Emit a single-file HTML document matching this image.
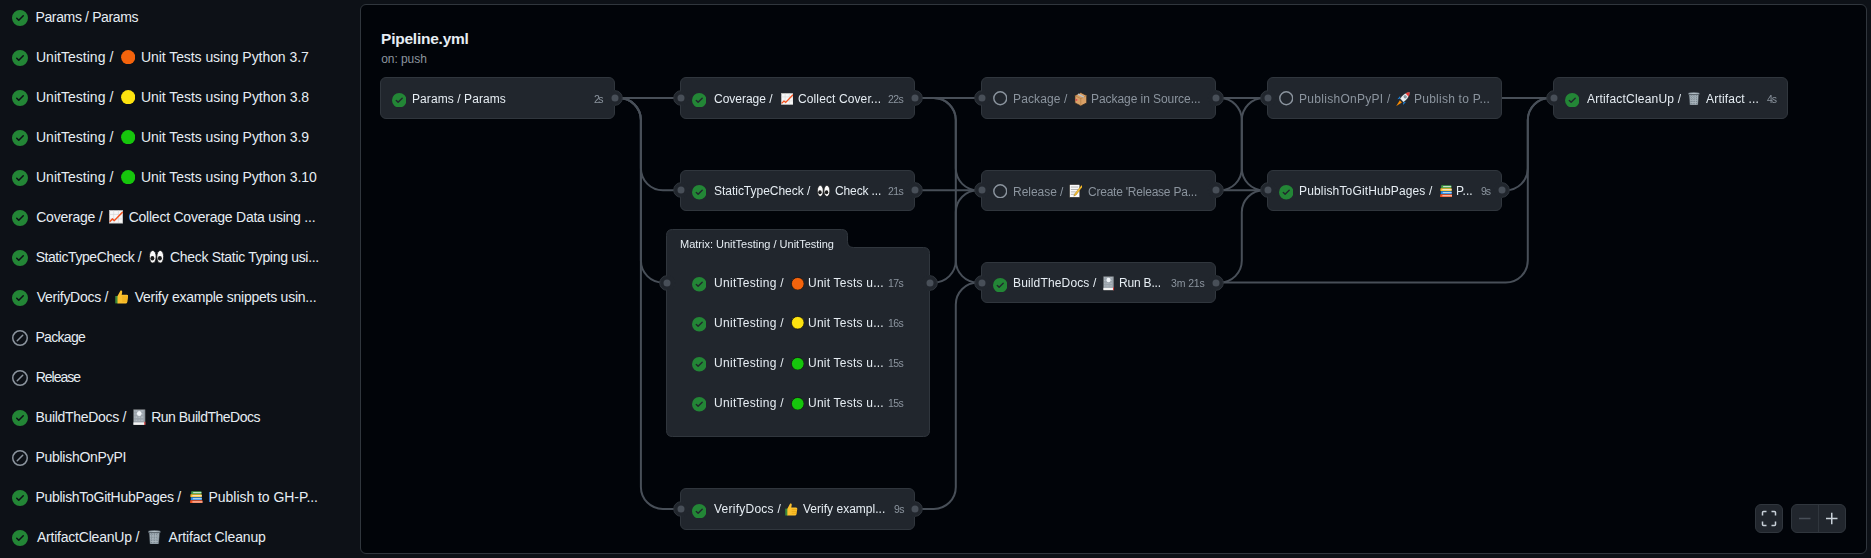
<!DOCTYPE html><html><head><meta charset="utf-8"><style>
html,body{margin:0;padding:0;}
body{width:1871px;height:558px;background:#0d1117;font-family:"Liberation Sans", sans-serif;position:relative;overflow:hidden;color:#e6edf3;}
.a{position:absolute;}
.t{position:absolute;white-space:pre;line-height:1;}
.g{will-change:transform;}
.panel{position:absolute;left:360px;top:4px;width:1505px;height:548px;border:1px solid #30363d;border-radius:6px;background:#010409;}
.node{position:absolute;background:#21262d;border:1px solid #30363d;border-radius:6px;box-sizing:border-box;}
</style></head><body>
<div class="a" style="left:12px;top:10px"><svg width="16" height="16" viewBox="0 0 16 16" style="display:block"><path fill="#238636" d="M8 16A8 8 0 1 1 8 0a8 8 0 0 1 0 16Zm3.78-9.72a.751.751 0 0 0-.018-1.042.751.751 0 0 0-1.042-.018L6.75 9.19 5.28 7.72a.751.751 0 0 0-1.042.018.751.751 0 0 0-.018 1.042l2 2a.75.75 0 0 0 1.06 0Z"/></svg></div>
<div class="a" style="left:12px;top:50px"><svg width="16" height="16" viewBox="0 0 16 16" style="display:block"><path fill="#238636" d="M8 16A8 8 0 1 1 8 0a8 8 0 0 1 0 16Zm3.78-9.72a.751.751 0 0 0-.018-1.042.751.751 0 0 0-1.042-.018L6.75 9.19 5.28 7.72a.751.751 0 0 0-1.042.018.751.751 0 0 0-.018 1.042l2 2a.75.75 0 0 0 1.06 0Z"/></svg></div>
<div class="a" style="left:12px;top:90px"><svg width="16" height="16" viewBox="0 0 16 16" style="display:block"><path fill="#238636" d="M8 16A8 8 0 1 1 8 0a8 8 0 0 1 0 16Zm3.78-9.72a.751.751 0 0 0-.018-1.042.751.751 0 0 0-1.042-.018L6.75 9.19 5.28 7.72a.751.751 0 0 0-1.042.018.751.751 0 0 0-.018 1.042l2 2a.75.75 0 0 0 1.06 0Z"/></svg></div>
<div class="a" style="left:12px;top:130px"><svg width="16" height="16" viewBox="0 0 16 16" style="display:block"><path fill="#238636" d="M8 16A8 8 0 1 1 8 0a8 8 0 0 1 0 16Zm3.78-9.72a.751.751 0 0 0-.018-1.042.751.751 0 0 0-1.042-.018L6.75 9.19 5.28 7.72a.751.751 0 0 0-1.042.018.751.751 0 0 0-.018 1.042l2 2a.75.75 0 0 0 1.06 0Z"/></svg></div>
<div class="a" style="left:12px;top:170px"><svg width="16" height="16" viewBox="0 0 16 16" style="display:block"><path fill="#238636" d="M8 16A8 8 0 1 1 8 0a8 8 0 0 1 0 16Zm3.78-9.72a.751.751 0 0 0-.018-1.042.751.751 0 0 0-1.042-.018L6.75 9.19 5.28 7.72a.751.751 0 0 0-1.042.018.751.751 0 0 0-.018 1.042l2 2a.75.75 0 0 0 1.06 0Z"/></svg></div>
<div class="a" style="left:12px;top:210px"><svg width="16" height="16" viewBox="0 0 16 16" style="display:block"><path fill="#238636" d="M8 16A8 8 0 1 1 8 0a8 8 0 0 1 0 16Zm3.78-9.72a.751.751 0 0 0-.018-1.042.751.751 0 0 0-1.042-.018L6.75 9.19 5.28 7.72a.751.751 0 0 0-1.042.018.751.751 0 0 0-.018 1.042l2 2a.75.75 0 0 0 1.06 0Z"/></svg></div>
<div class="a" style="left:12px;top:250px"><svg width="16" height="16" viewBox="0 0 16 16" style="display:block"><path fill="#238636" d="M8 16A8 8 0 1 1 8 0a8 8 0 0 1 0 16Zm3.78-9.72a.751.751 0 0 0-.018-1.042.751.751 0 0 0-1.042-.018L6.75 9.19 5.28 7.72a.751.751 0 0 0-1.042.018.751.751 0 0 0-.018 1.042l2 2a.75.75 0 0 0 1.06 0Z"/></svg></div>
<div class="a" style="left:12px;top:290px"><svg width="16" height="16" viewBox="0 0 16 16" style="display:block"><path fill="#238636" d="M8 16A8 8 0 1 1 8 0a8 8 0 0 1 0 16Zm3.78-9.72a.751.751 0 0 0-.018-1.042.751.751 0 0 0-1.042-.018L6.75 9.19 5.28 7.72a.751.751 0 0 0-1.042.018.751.751 0 0 0-.018 1.042l2 2a.75.75 0 0 0 1.06 0Z"/></svg></div>
<div class="a" style="left:12px;top:330px"><svg width="16" height="16" viewBox="0 0 16 16" style="display:block"><path fill="#8b949e" d="M8 0a8 8 0 1 1 0 16A8 8 0 0 1 8 0ZM1.5 8a6.5 6.5 0 1 0 13 0 6.5 6.5 0 0 0-13 0Zm9.78-2.22-5.5 5.5a.749.749 0 0 1-1.275-.326.749.749 0 0 1 .215-.734l5.5-5.5a.751.751 0 0 1 1.042.018.751.751 0 0 1 .018 1.042Z"/></svg></div>
<div class="a" style="left:12px;top:370px"><svg width="16" height="16" viewBox="0 0 16 16" style="display:block"><path fill="#8b949e" d="M8 0a8 8 0 1 1 0 16A8 8 0 0 1 8 0ZM1.5 8a6.5 6.5 0 1 0 13 0 6.5 6.5 0 0 0-13 0Zm9.78-2.22-5.5 5.5a.749.749 0 0 1-1.275-.326.749.749 0 0 1 .215-.734l5.5-5.5a.751.751 0 0 1 1.042.018.751.751 0 0 1 .018 1.042Z"/></svg></div>
<div class="a" style="left:12px;top:410px"><svg width="16" height="16" viewBox="0 0 16 16" style="display:block"><path fill="#238636" d="M8 16A8 8 0 1 1 8 0a8 8 0 0 1 0 16Zm3.78-9.72a.751.751 0 0 0-.018-1.042.751.751 0 0 0-1.042-.018L6.75 9.19 5.28 7.72a.751.751 0 0 0-1.042.018.751.751 0 0 0-.018 1.042l2 2a.75.75 0 0 0 1.06 0Z"/></svg></div>
<div class="a" style="left:12px;top:450px"><svg width="16" height="16" viewBox="0 0 16 16" style="display:block"><path fill="#8b949e" d="M8 0a8 8 0 1 1 0 16A8 8 0 0 1 8 0ZM1.5 8a6.5 6.5 0 1 0 13 0 6.5 6.5 0 0 0-13 0Zm9.78-2.22-5.5 5.5a.749.749 0 0 1-1.275-.326.749.749 0 0 1 .215-.734l5.5-5.5a.751.751 0 0 1 1.042.018.751.751 0 0 1 .018 1.042Z"/></svg></div>
<div class="a" style="left:12px;top:490px"><svg width="16" height="16" viewBox="0 0 16 16" style="display:block"><path fill="#238636" d="M8 16A8 8 0 1 1 8 0a8 8 0 0 1 0 16Zm3.78-9.72a.751.751 0 0 0-.018-1.042.751.751 0 0 0-1.042-.018L6.75 9.19 5.28 7.72a.751.751 0 0 0-1.042.018.751.751 0 0 0-.018 1.042l2 2a.75.75 0 0 0 1.06 0Z"/></svg></div>
<div class="a" style="left:12px;top:530px"><svg width="16" height="16" viewBox="0 0 16 16" style="display:block"><path fill="#238636" d="M8 16A8 8 0 1 1 8 0a8 8 0 0 1 0 16Zm3.78-9.72a.751.751 0 0 0-.018-1.042.751.751 0 0 0-1.042-.018L6.75 9.19 5.28 7.72a.751.751 0 0 0-1.042.018.751.751 0 0 0-.018 1.042l2 2a.75.75 0 0 0 1.06 0Z"/></svg></div>
<div class="panel"></div>
<svg class="a" style="left:0;top:0" width="1871" height="558"><path d="M614.5,98.0 H680.5" fill="none" stroke="#484f58" stroke-width="2"/><path d="M614.5,98.0 H618.9 A22,22 0 0 1 640.9,120.0 V168.3 A22,22 0 0 0 662.9,190.3 H680.5" fill="none" stroke="#484f58" stroke-width="2"/><path d="M614.5,98.0 H618.9 A22,22 0 0 1 640.9,120.0 V260.6 A22,22 0 0 0 662.9,282.6 H666.5" fill="none" stroke="#484f58" stroke-width="2"/><path d="M614.5,98.0 H618.9 A22,22 0 0 1 640.9,120.0 V486.9 A22,22 0 0 0 662.9,508.9 H680.5" fill="none" stroke="#484f58" stroke-width="2"/><path d="M914.5,98.0 H981.5" fill="none" stroke="#484f58" stroke-width="2"/><path d="M914.5,98.0 H933.8 A22,22 0 0 1 955.8,120.0 V168.3 A22,22 0 0 0 977.8,190.3 H981.5" fill="none" stroke="#484f58" stroke-width="2"/><path d="M914.5,98.0 H933.8 A22,22 0 0 1 955.8,120.0 V260.6 A22,22 0 0 0 977.8,282.6 H981.5" fill="none" stroke="#484f58" stroke-width="2"/><path d="M914.5,190.3 H981.5" fill="none" stroke="#484f58" stroke-width="2"/><path d="M929.5,282.6 H933.8 A22,22 0 0 0 955.8,260.6 V212.3 A22,22 0 0 1 977.8,190.3 H981.5" fill="none" stroke="#484f58" stroke-width="2"/><path d="M914.5,508.9 H933.8 A22,22 0 0 0 955.8,486.9 V304.6 A22,22 0 0 1 977.8,282.6 H981.5" fill="none" stroke="#484f58" stroke-width="2"/><path d="M1215.5,98.0 H1267.5" fill="none" stroke="#484f58" stroke-width="2"/><path d="M1215.5,98.0 H1219.8 A22,22 0 0 1 1241.8,120.0 V168.3 A22,22 0 0 0 1263.8,190.3 H1267.5" fill="none" stroke="#484f58" stroke-width="2"/><path d="M1215.5,190.3 H1219.8 A22,22 0 0 0 1241.8,168.3 V120.0 A22,22 0 0 1 1263.8,98.0 H1267.5" fill="none" stroke="#484f58" stroke-width="2"/><path d="M1215.5,190.3 H1267.5" fill="none" stroke="#484f58" stroke-width="2"/><path d="M1215.5,282.6 H1219.8 A22,22 0 0 0 1241.8,260.6 V212.3 A22,22 0 0 1 1263.8,190.3 H1267.5" fill="none" stroke="#484f58" stroke-width="2"/><path d="M1501.5,98.0 H1553.5" fill="none" stroke="#484f58" stroke-width="2"/><path d="M1501.5,190.3 H1505.8 A22,22 0 0 0 1527.8,168.3 V120.0 A22,22 0 0 1 1549.8,98.0 H1553.5" fill="none" stroke="#484f58" stroke-width="2"/><path d="M1215.5,282.6 H1505.8 A22,22 0 0 0 1527.8,260.6 V120.0 A22,22 0 0 1 1549.8,98.0 H1553.5" fill="none" stroke="#484f58" stroke-width="2"/></svg>
<div class="node" style="left:380.0px;top:77px;width:235.0px;height:42px"></div>
<div class="node" style="left:680.0px;top:77px;width:235.0px;height:42px"></div>
<div class="node" style="left:680.0px;top:170px;width:235.0px;height:41px"></div>
<div class="node" style="left:680.0px;top:488px;width:235.0px;height:42px"></div>
<div class="node" style="left:981.0px;top:77px;width:235.0px;height:42px"></div>
<div class="node" style="left:981.0px;top:170px;width:235.0px;height:41px"></div>
<div class="node" style="left:981.0px;top:262px;width:235.0px;height:41px"></div>
<div class="node" style="left:1267.0px;top:77px;width:235.0px;height:42px"></div>
<div class="node" style="left:1267.0px;top:170px;width:235.0px;height:41px"></div>
<div class="node" style="left:1553.0px;top:77px;width:235.0px;height:42px"></div>
<svg class="a" style="left:0;top:0" width="1871" height="558">
<path d="M672.5,229.5 H841.5 Q847.5,229.5 847.5,235.5 V241.5 Q847.5,247.5 853.5,247.5 H923.5 Q929.5,247.5 929.5,253.5 V430.5 Q929.5,436.5 923.5,436.5 H672.5 Q666.5,436.5 666.5,430.5 V235.5 Q666.5,229.5 672.5,229.5 Z" fill="#21262d" stroke="#30363d" stroke-width="1"/>
</svg>
<div class="a" style="left:391.75px;top:92.95px"><svg width="14.5" height="14.5" viewBox="0 0 16 16" style="display:block"><path fill="#238636" d="M8 16A8 8 0 1 1 8 0a8 8 0 0 1 0 16Zm3.78-9.72a.751.751 0 0 0-.018-1.042.751.751 0 0 0-1.042-.018L6.75 9.19 5.28 7.72a.751.751 0 0 0-1.042.018.751.751 0 0 0-.018 1.042l2 2a.75.75 0 0 0 1.06 0Z"/></svg></div>
<div class="a" style="left:691.75px;top:92.95px"><svg width="14.5" height="14.5" viewBox="0 0 16 16" style="display:block"><path fill="#238636" d="M8 16A8 8 0 1 1 8 0a8 8 0 0 1 0 16Zm3.78-9.72a.751.751 0 0 0-.018-1.042.751.751 0 0 0-1.042-.018L6.75 9.19 5.28 7.72a.751.751 0 0 0-1.042.018.751.751 0 0 0-.018 1.042l2 2a.75.75 0 0 0 1.06 0Z"/></svg></div>
<div class="a" style="left:691.75px;top:185.25px"><svg width="14.5" height="14.5" viewBox="0 0 16 16" style="display:block"><path fill="#238636" d="M8 16A8 8 0 1 1 8 0a8 8 0 0 1 0 16Zm3.78-9.72a.751.751 0 0 0-.018-1.042.751.751 0 0 0-1.042-.018L6.75 9.19 5.28 7.72a.751.751 0 0 0-1.042.018.751.751 0 0 0-.018 1.042l2 2a.75.75 0 0 0 1.06 0Z"/></svg></div>
<div class="a" style="left:691.75px;top:503.85px"><svg width="14.5" height="14.5" viewBox="0 0 16 16" style="display:block"><path fill="#238636" d="M8 16A8 8 0 1 1 8 0a8 8 0 0 1 0 16Zm3.78-9.72a.751.751 0 0 0-.018-1.042.751.751 0 0 0-1.042-.018L6.75 9.19 5.28 7.72a.751.751 0 0 0-1.042.018.751.751 0 0 0-.018 1.042l2 2a.75.75 0 0 0 1.06 0Z"/></svg></div>
<div class="a" style="left:992.75px;top:91.35px"><svg width="14.5" height="14.5" viewBox="0 0 16 16" style="display:block"><circle cx="8" cy="8" r="7.1" fill="none" stroke="#8b949e" stroke-width="1.6"/></svg></div>
<div class="a" style="left:992.75px;top:183.65px"><svg width="14.5" height="14.5" viewBox="0 0 16 16" style="display:block"><circle cx="8" cy="8" r="7.1" fill="none" stroke="#8b949e" stroke-width="1.6"/></svg></div>
<div class="a" style="left:992.75px;top:277.55px"><svg width="14.5" height="14.5" viewBox="0 0 16 16" style="display:block"><path fill="#238636" d="M8 16A8 8 0 1 1 8 0a8 8 0 0 1 0 16Zm3.78-9.72a.751.751 0 0 0-.018-1.042.751.751 0 0 0-1.042-.018L6.75 9.19 5.28 7.72a.751.751 0 0 0-1.042.018.751.751 0 0 0-.018 1.042l2 2a.75.75 0 0 0 1.06 0Z"/></svg></div>
<div class="a" style="left:1278.75px;top:91.35px"><svg width="14.5" height="14.5" viewBox="0 0 16 16" style="display:block"><circle cx="8" cy="8" r="7.1" fill="none" stroke="#8b949e" stroke-width="1.6"/></svg></div>
<div class="a" style="left:1278.75px;top:185.25px"><svg width="14.5" height="14.5" viewBox="0 0 16 16" style="display:block"><path fill="#238636" d="M8 16A8 8 0 1 1 8 0a8 8 0 0 1 0 16Zm3.78-9.72a.751.751 0 0 0-.018-1.042.751.751 0 0 0-1.042-.018L6.75 9.19 5.28 7.72a.751.751 0 0 0-1.042.018.751.751 0 0 0-.018 1.042l2 2a.75.75 0 0 0 1.06 0Z"/></svg></div>
<div class="a" style="left:1564.75px;top:92.95px"><svg width="14.5" height="14.5" viewBox="0 0 16 16" style="display:block"><path fill="#238636" d="M8 16A8 8 0 1 1 8 0a8 8 0 0 1 0 16Zm3.78-9.72a.751.751 0 0 0-.018-1.042.751.751 0 0 0-1.042-.018L6.75 9.19 5.28 7.72a.751.751 0 0 0-1.042.018.751.751 0 0 0-.018 1.042l2 2a.75.75 0 0 0 1.06 0Z"/></svg></div>
<div class="a" style="left:691.75px;top:277.35px"><svg width="14.5" height="14.5" viewBox="0 0 16 16" style="display:block"><path fill="#238636" d="M8 16A8 8 0 1 1 8 0a8 8 0 0 1 0 16Zm3.78-9.72a.751.751 0 0 0-.018-1.042.751.751 0 0 0-1.042-.018L6.75 9.19 5.28 7.72a.751.751 0 0 0-1.042.018.751.751 0 0 0-.018 1.042l2 2a.75.75 0 0 0 1.06 0Z"/></svg></div>
<div class="a" style="left:691.75px;top:317.25px"><svg width="14.5" height="14.5" viewBox="0 0 16 16" style="display:block"><path fill="#238636" d="M8 16A8 8 0 1 1 8 0a8 8 0 0 1 0 16Zm3.78-9.72a.751.751 0 0 0-.018-1.042.751.751 0 0 0-1.042-.018L6.75 9.19 5.28 7.72a.751.751 0 0 0-1.042.018.751.751 0 0 0-.018 1.042l2 2a.75.75 0 0 0 1.06 0Z"/></svg></div>
<div class="a" style="left:691.75px;top:357.35px"><svg width="14.5" height="14.5" viewBox="0 0 16 16" style="display:block"><path fill="#238636" d="M8 16A8 8 0 1 1 8 0a8 8 0 0 1 0 16Zm3.78-9.72a.751.751 0 0 0-.018-1.042.751.751 0 0 0-1.042-.018L6.75 9.19 5.28 7.72a.751.751 0 0 0-1.042.018.751.751 0 0 0-.018 1.042l2 2a.75.75 0 0 0 1.06 0Z"/></svg></div>
<div class="a" style="left:691.75px;top:397.35px"><svg width="14.5" height="14.5" viewBox="0 0 16 16" style="display:block"><path fill="#238636" d="M8 16A8 8 0 1 1 8 0a8 8 0 0 1 0 16Zm3.78-9.72a.751.751 0 0 0-.018-1.042.751.751 0 0 0-1.042-.018L6.75 9.19 5.28 7.72a.751.751 0 0 0-1.042.018.751.751 0 0 0-.018 1.042l2 2a.75.75 0 0 0 1.06 0Z"/></svg></div>
<svg class="a" style="left:605.50px;top:89.00px" width="18" height="18"><circle cx="9" cy="9" r="7.3" fill="#21262d" stroke="#30363d" stroke-width="1"/><path d="M9,0.9 A8.1,8.1 0 0 0 9,17.1 Z" fill="#21262d"/><circle cx="9" cy="9" r="3.5" fill="#484f58"/></svg>
<svg class="a" style="left:671.50px;top:89.00px" width="18" height="18"><circle cx="9" cy="9" r="7.3" fill="#21262d" stroke="#30363d" stroke-width="1"/><path d="M9,0.9 A8.1,8.1 0 0 1 9,17.1 Z" fill="#21262d"/><circle cx="9" cy="9" r="3.5" fill="#484f58"/></svg>
<svg class="a" style="left:905.50px;top:89.00px" width="18" height="18"><circle cx="9" cy="9" r="7.3" fill="#21262d" stroke="#30363d" stroke-width="1"/><path d="M9,0.9 A8.1,8.1 0 0 0 9,17.1 Z" fill="#21262d"/><circle cx="9" cy="9" r="3.5" fill="#484f58"/></svg>
<svg class="a" style="left:671.50px;top:181.30px" width="18" height="18"><circle cx="9" cy="9" r="7.3" fill="#21262d" stroke="#30363d" stroke-width="1"/><path d="M9,0.9 A8.1,8.1 0 0 1 9,17.1 Z" fill="#21262d"/><circle cx="9" cy="9" r="3.5" fill="#484f58"/></svg>
<svg class="a" style="left:905.50px;top:181.30px" width="18" height="18"><circle cx="9" cy="9" r="7.3" fill="#21262d" stroke="#30363d" stroke-width="1"/><path d="M9,0.9 A8.1,8.1 0 0 0 9,17.1 Z" fill="#21262d"/><circle cx="9" cy="9" r="3.5" fill="#484f58"/></svg>
<svg class="a" style="left:657.50px;top:273.60px" width="18" height="18"><circle cx="9" cy="9" r="7.3" fill="#21262d" stroke="#30363d" stroke-width="1"/><path d="M9,0.9 A8.1,8.1 0 0 1 9,17.1 Z" fill="#21262d"/><circle cx="9" cy="9" r="3.5" fill="#484f58"/></svg>
<svg class="a" style="left:920.50px;top:273.60px" width="18" height="18"><circle cx="9" cy="9" r="7.3" fill="#21262d" stroke="#30363d" stroke-width="1"/><path d="M9,0.9 A8.1,8.1 0 0 0 9,17.1 Z" fill="#21262d"/><circle cx="9" cy="9" r="3.5" fill="#484f58"/></svg>
<svg class="a" style="left:671.50px;top:499.90px" width="18" height="18"><circle cx="9" cy="9" r="7.3" fill="#21262d" stroke="#30363d" stroke-width="1"/><path d="M9,0.9 A8.1,8.1 0 0 1 9,17.1 Z" fill="#21262d"/><circle cx="9" cy="9" r="3.5" fill="#484f58"/></svg>
<svg class="a" style="left:905.50px;top:499.90px" width="18" height="18"><circle cx="9" cy="9" r="7.3" fill="#21262d" stroke="#30363d" stroke-width="1"/><path d="M9,0.9 A8.1,8.1 0 0 0 9,17.1 Z" fill="#21262d"/><circle cx="9" cy="9" r="3.5" fill="#484f58"/></svg>
<svg class="a" style="left:972.50px;top:89.00px" width="18" height="18"><circle cx="9" cy="9" r="7.3" fill="#21262d" stroke="#30363d" stroke-width="1"/><path d="M9,0.9 A8.1,8.1 0 0 1 9,17.1 Z" fill="#21262d"/><circle cx="9" cy="9" r="3.5" fill="#484f58"/></svg>
<svg class="a" style="left:1206.50px;top:89.00px" width="18" height="18"><circle cx="9" cy="9" r="7.3" fill="#21262d" stroke="#30363d" stroke-width="1"/><path d="M9,0.9 A8.1,8.1 0 0 0 9,17.1 Z" fill="#21262d"/><circle cx="9" cy="9" r="3.5" fill="#484f58"/></svg>
<svg class="a" style="left:972.50px;top:181.30px" width="18" height="18"><circle cx="9" cy="9" r="7.3" fill="#21262d" stroke="#30363d" stroke-width="1"/><path d="M9,0.9 A8.1,8.1 0 0 1 9,17.1 Z" fill="#21262d"/><circle cx="9" cy="9" r="3.5" fill="#484f58"/></svg>
<svg class="a" style="left:1206.50px;top:181.30px" width="18" height="18"><circle cx="9" cy="9" r="7.3" fill="#21262d" stroke="#30363d" stroke-width="1"/><path d="M9,0.9 A8.1,8.1 0 0 0 9,17.1 Z" fill="#21262d"/><circle cx="9" cy="9" r="3.5" fill="#484f58"/></svg>
<svg class="a" style="left:972.50px;top:273.60px" width="18" height="18"><circle cx="9" cy="9" r="7.3" fill="#21262d" stroke="#30363d" stroke-width="1"/><path d="M9,0.9 A8.1,8.1 0 0 1 9,17.1 Z" fill="#21262d"/><circle cx="9" cy="9" r="3.5" fill="#484f58"/></svg>
<svg class="a" style="left:1206.50px;top:273.60px" width="18" height="18"><circle cx="9" cy="9" r="7.3" fill="#21262d" stroke="#30363d" stroke-width="1"/><path d="M9,0.9 A8.1,8.1 0 0 0 9,17.1 Z" fill="#21262d"/><circle cx="9" cy="9" r="3.5" fill="#484f58"/></svg>
<svg class="a" style="left:1258.50px;top:89.00px" width="18" height="18"><circle cx="9" cy="9" r="7.3" fill="#21262d" stroke="#30363d" stroke-width="1"/><path d="M9,0.9 A8.1,8.1 0 0 1 9,17.1 Z" fill="#21262d"/><circle cx="9" cy="9" r="3.5" fill="#484f58"/></svg>
<svg class="a" style="left:1258.50px;top:181.30px" width="18" height="18"><circle cx="9" cy="9" r="7.3" fill="#21262d" stroke="#30363d" stroke-width="1"/><path d="M9,0.9 A8.1,8.1 0 0 1 9,17.1 Z" fill="#21262d"/><circle cx="9" cy="9" r="3.5" fill="#484f58"/></svg>
<svg class="a" style="left:1492.50px;top:181.30px" width="18" height="18"><circle cx="9" cy="9" r="7.3" fill="#21262d" stroke="#30363d" stroke-width="1"/><path d="M9,0.9 A8.1,8.1 0 0 0 9,17.1 Z" fill="#21262d"/><circle cx="9" cy="9" r="3.5" fill="#484f58"/></svg>
<svg class="a" style="left:1544.50px;top:89.00px" width="18" height="18"><circle cx="9" cy="9" r="7.3" fill="#21262d" stroke="#30363d" stroke-width="1"/><path d="M9,0.9 A8.1,8.1 0 0 1 9,17.1 Z" fill="#21262d"/><circle cx="9" cy="9" r="3.5" fill="#484f58"/></svg>
<div class="t" style="left:35.43px;top:9.83px;font-size:14px;letter-spacing:-0.354px;color:#e6edf3">Params / Params</div>
<div class="t" style="left:35.97px;top:49.83px;font-size:14px;letter-spacing:0.022px;color:#e6edf3">UnitTesting /</div>
<div class="t" style="left:140.97px;top:49.83px;font-size:14px;letter-spacing:-0.062px;color:#e6edf3">Unit Tests using Python 3.7</div>
<div class="t" style="left:35.97px;top:89.83px;font-size:14px;letter-spacing:0.022px;color:#e6edf3">UnitTesting /</div>
<div class="t" style="left:140.97px;top:89.83px;font-size:14px;letter-spacing:-0.048px;color:#e6edf3">Unit Tests using Python 3.8</div>
<div class="t" style="left:35.97px;top:129.83px;font-size:14px;letter-spacing:0.022px;color:#e6edf3">UnitTesting /</div>
<div class="t" style="left:140.97px;top:129.83px;font-size:14px;letter-spacing:-0.048px;color:#e6edf3">Unit Tests using Python 3.9</div>
<div class="t" style="left:35.97px;top:169.83px;font-size:14px;letter-spacing:0.022px;color:#e6edf3">UnitTesting /</div>
<div class="t" style="left:140.97px;top:169.83px;font-size:14px;letter-spacing:-0.052px;color:#e6edf3">Unit Tests using Python 3.10</div>
<div class="t" style="left:36.22px;top:209.83px;font-size:14px;letter-spacing:-0.231px;color:#e6edf3">Coverage /</div>
<div class="t" style="left:128.65px;top:209.83px;font-size:14px;letter-spacing:-0.229px;color:#e6edf3">Collect Coverage Data using ...</div>
<div class="t" style="left:35.65px;top:249.83px;font-size:14px;letter-spacing:-0.429px;color:#e6edf3">StaticTypeCheck /</div>
<div class="t" style="left:170.06px;top:249.83px;font-size:14px;letter-spacing:-0.311px;color:#e6edf3">Check Static Typing usi...</div>
<div class="t" style="left:36.70px;top:289.83px;font-size:14px;letter-spacing:-0.265px;color:#e6edf3">VerifyDocs /</div>
<div class="t" style="left:134.70px;top:289.83px;font-size:14px;letter-spacing:-0.242px;color:#e6edf3">Verify example snippets usin...</div>
<div class="t" style="left:35.43px;top:329.83px;font-size:14px;letter-spacing:-0.670px;color:#e6edf3">Package</div>
<div class="t" style="left:35.66px;top:369.83px;font-size:14px;letter-spacing:-0.988px;color:#e6edf3">Release</div>
<div class="t" style="left:35.43px;top:409.83px;font-size:14px;letter-spacing:-0.306px;color:#e6edf3">BuildTheDocs /</div>
<div class="t" style="left:151.16px;top:409.83px;font-size:14px;letter-spacing:-0.489px;color:#e6edf3">Run BuildTheDocs</div>
<div class="t" style="left:35.43px;top:449.83px;font-size:14px;letter-spacing:-0.270px;color:#e6edf3">PublishOnPyPI</div>
<div class="t" style="left:35.43px;top:489.83px;font-size:14px;letter-spacing:-0.285px;color:#e6edf3">PublishToGitHubPages /</div>
<div class="t" style="left:208.59px;top:489.83px;font-size:14px;letter-spacing:-0.048px;color:#e6edf3">Publish to GH-P...</div>
<div class="t" style="left:36.91px;top:529.83px;font-size:14px;letter-spacing:-0.210px;color:#e6edf3">ArtifactCleanUp /</div>
<div class="t" style="left:168.58px;top:529.83px;font-size:14px;letter-spacing:-0.159px;color:#e6edf3">Artifact Cleanup</div>
<div class="t g" style="left:412.38px;top:93.14px;font-size:12px;letter-spacing:0.084px;color:#e6edf3">Params / Params</div>
<div class="t g" style="left:593.89px;top:93.70px;font-size:10.5px;letter-spacing:-1.493px;color:#8b949e">2s</div>
<div class="t g" style="left:714.38px;top:93.14px;font-size:12px;letter-spacing:-0.018px;color:#e6edf3">Coverage /</div>
<div class="t g" style="left:798.18px;top:93.14px;font-size:12px;letter-spacing:0.114px;color:#e6edf3">Collect Cover...</div>
<div class="t g" style="left:888.39px;top:93.70px;font-size:10.5px;letter-spacing:-0.569px;color:#8b949e">22s</div>
<div class="t g" style="left:713.59px;top:185.14px;font-size:12px;letter-spacing:-0.024px;color:#e6edf3">StaticTypeCheck /</div>
<div class="t g" style="left:835.48px;top:185.14px;font-size:12px;letter-spacing:-0.124px;color:#e6edf3">Check ...</div>
<div class="t g" style="left:888.39px;top:185.70px;font-size:10.5px;letter-spacing:-0.569px;color:#8b949e">21s</div>
<div class="t g" style="left:714.28px;top:502.94px;font-size:12px;letter-spacing:0.246px;color:#e6edf3">VerifyDocs /</div>
<div class="t g" style="left:803.48px;top:502.94px;font-size:12px;letter-spacing:0.016px;color:#e6edf3">Verify exampl...</div>
<div class="t g" style="left:893.89px;top:503.50px;font-size:10.5px;letter-spacing:-0.493px;color:#8b949e">9s</div>
<div class="t g" style="left:1013.38px;top:93.14px;font-size:12px;letter-spacing:0.130px;color:#8b949e">Package /</div>
<div class="t g" style="left:1091.18px;top:93.14px;font-size:12px;letter-spacing:-0.063px;color:#8b949e">Package in Source...</div>
<div class="t g" style="left:1013.38px;top:185.94px;font-size:12px;letter-spacing:-0.032px;color:#8b949e">Release /</div>
<div class="t g" style="left:1088.03px;top:185.94px;font-size:12px;letter-spacing:-0.223px;color:#8b949e">Create 'Release Pa...</div>
<div class="t g" style="left:1013.38px;top:277.14px;font-size:12px;letter-spacing:0.152px;color:#e6edf3">BuildTheDocs /</div>
<div class="t g" style="left:1118.68px;top:277.14px;font-size:12px;letter-spacing:-0.184px;color:#e6edf3">Run B...</div>
<div class="t g" style="left:1170.75px;top:277.70px;font-size:10.5px;letter-spacing:-0.118px;color:#8b949e">3m 21s</div>
<div class="t g" style="left:1299.38px;top:93.14px;font-size:12px;letter-spacing:0.291px;color:#8b949e">PublishOnPyPI /</div>
<div class="t g" style="left:1414.38px;top:93.14px;font-size:12px;letter-spacing:0.241px;color:#8b949e">Publish to P...</div>
<div class="t g" style="left:1299.38px;top:185.14px;font-size:12px;letter-spacing:0.156px;color:#e6edf3">PublishToGitHubPages /</div>
<div class="t g" style="left:1456.38px;top:185.14px;font-size:12px;letter-spacing:0.052px;color:#e6edf3">P...</div>
<div class="t g" style="left:1480.69px;top:185.70px;font-size:10.5px;letter-spacing:-1.095px;color:#8b949e">9s</div>
<div class="t g" style="left:1586.68px;top:93.14px;font-size:12px;letter-spacing:0.215px;color:#e6edf3">ArtifactCleanUp /</div>
<div class="t g" style="left:1706.08px;top:93.14px;font-size:12px;letter-spacing:0.189px;color:#e6edf3">Artifact ...</div>
<div class="t g" style="left:1766.97px;top:93.70px;font-size:10.5px;letter-spacing:-1.169px;color:#8b949e">4s</div>
<div class="t g" style="left:713.58px;top:277.14px;font-size:12px;letter-spacing:0.296px;color:#e6edf3">UnitTesting /</div>
<div class="t g" style="left:808.48px;top:277.14px;font-size:12px;letter-spacing:0.224px;color:#e6edf3">Unit Tests u...</div>
<div class="t g" style="left:888.37px;top:277.70px;font-size:10.5px;letter-spacing:-0.553px;color:#8b949e">17s</div>
<div class="t g" style="left:713.58px;top:317.14px;font-size:12px;letter-spacing:0.296px;color:#e6edf3">UnitTesting /</div>
<div class="t g" style="left:808.48px;top:317.14px;font-size:12px;letter-spacing:0.224px;color:#e6edf3">Unit Tests u...</div>
<div class="t g" style="left:888.37px;top:317.70px;font-size:10.5px;letter-spacing:-0.553px;color:#8b949e">16s</div>
<div class="t g" style="left:713.58px;top:357.14px;font-size:12px;letter-spacing:0.296px;color:#e6edf3">UnitTesting /</div>
<div class="t g" style="left:808.48px;top:357.14px;font-size:12px;letter-spacing:0.224px;color:#e6edf3">Unit Tests u...</div>
<div class="t g" style="left:888.37px;top:357.70px;font-size:10.5px;letter-spacing:-0.553px;color:#8b949e">15s</div>
<div class="t g" style="left:713.58px;top:397.14px;font-size:12px;letter-spacing:0.296px;color:#e6edf3">UnitTesting /</div>
<div class="t g" style="left:808.48px;top:397.14px;font-size:12px;letter-spacing:0.224px;color:#e6edf3">Unit Tests u...</div>
<div class="t g" style="left:888.37px;top:397.70px;font-size:10.5px;letter-spacing:-0.553px;color:#8b949e">15s</div>
<div class="t g" style="left:679.94px;top:239.24px;font-size:11px;letter-spacing:-0.002px;color:#e6edf3">Matrix: UnitTesting / UnitTesting</div>
<div class="t" style="left:381.06px;top:30.97px;font-size:15.5px;font-weight:bold;letter-spacing:-0.237px;color:#e6edf3">Pipeline.yml</div>
<div class="t" style="left:381.24px;top:53.14px;font-size:12px;letter-spacing:-0.066px;color:#8b949e">on: push</div>
<div class="a" style="left:120.60px;top:49.80px"><svg width="14.40" height="14.40" viewBox="0 0 16 16" preserveAspectRatio="none" style="display:block"><circle cx="8" cy="8" r="7.9" fill="#f4630c"/></svg></div>
<div class="a" style="left:120.60px;top:89.80px"><svg width="14.40" height="14.40" viewBox="0 0 16 16" preserveAspectRatio="none" style="display:block"><circle cx="8" cy="8" r="7.9" fill="#fde30f"/></svg></div>
<div class="a" style="left:120.60px;top:129.80px"><svg width="14.40" height="14.40" viewBox="0 0 16 16" preserveAspectRatio="none" style="display:block"><circle cx="8" cy="8" r="7.9" fill="#16c60c"/></svg></div>
<div class="a" style="left:120.60px;top:169.80px"><svg width="14.40" height="14.40" viewBox="0 0 16 16" preserveAspectRatio="none" style="display:block"><circle cx="8" cy="8" r="7.9" fill="#16c60c"/></svg></div>
<div class="a" style="left:109.00px;top:210.25px"><svg width="14.20" height="13.49" viewBox="0 0 16 16" preserveAspectRatio="none" style="display:block"><rect x="0.4" y="0.4" width="15.2" height="15.2" fill="#f7f7f7" stroke="#b8b8b8" stroke-width="0.8"/><path d="M5.3 0.5V15.5M10.6 0.5V15.5M0.5 5.3H15.5M0.5 10.6H15.5" stroke="#d4d4d4" stroke-width="0.7"/><path d="M0.8 14 L3.8 10.8 L6 12.6 L15.4 2.4" fill="none" stroke="#f4511e" stroke-width="1.7"/></svg></div>
<div class="a" style="left:149.00px;top:250.25px"><svg width="15.00" height="13.50" viewBox="0 0 16 16" preserveAspectRatio="none" style="display:block"><ellipse cx="4" cy="8" rx="3.6" ry="7.5" fill="#fafafa" stroke="#1a1a1a" stroke-width="0.9"/><ellipse cx="12" cy="8" rx="3.6" ry="7.5" fill="#fafafa" stroke="#1a1a1a" stroke-width="0.9"/><ellipse cx="3.6" cy="9.8" rx="2.1" ry="2.6" fill="#1a1a1a"/><ellipse cx="11.6" cy="9.8" rx="2.1" ry="2.6" fill="#1a1a1a"/></svg></div>
<div class="a" style="left:114.60px;top:290.30px"><svg width="13.40" height="13.40" viewBox="0 0 16 16" preserveAspectRatio="none" style="display:block"><path d="M0.3 7.2H3.8V16H0.3Z" fill="#3a8a3a"/><path d="M3 7.2 L6.6 0.6 Q8.8 0 8.6 2.4 L8 5.6 H14.2 Q16 5.9 15.7 7.8 L14.6 14.6 Q14.2 16 12.8 16 H3Z" fill="#fbc02d"/><path d="M8.6 8.4H15.5M8.6 10.8H15M8.6 13.2H14.8" stroke="#e5a00d" stroke-width="0.8"/></svg></div>
<div class="a" style="left:133.30px;top:408.88px"><svg width="12.50" height="16.25" viewBox="0 0 16 16" preserveAspectRatio="none" style="display:block"><rect x="0.3" y="0.3" width="15.4" height="15.4" rx="0.8" fill="#9aa3ab" stroke="#333" stroke-width="0.6"/><path d="M2 2H14M2 5H14M2 8H14M2 11H14" stroke="#c5ccd2" stroke-width="1" stroke-dasharray="1 1"/><ellipse cx="8" cy="4.5" rx="3" ry="2.5" fill="#f0f4f8"/><rect x="0.6" y="13.2" width="14.8" height="2.4" fill="#f4f4f4"/><rect x="14.4" y="12.6" width="1.4" height="3.2" fill="#d03030"/></svg></div>
<div class="a" style="left:189.90px;top:490.65px"><svg width="12.70" height="12.70" viewBox="0 0 16 16" preserveAspectRatio="none" style="display:block"><rect x="1.5" y="0.2" width="13" height="3.9" rx="0.6" fill="#43a047"/><rect x="0.5" y="4.1" width="14.5" height="3.8" rx="0.6" fill="#fbc02d"/><rect x="1" y="7.9" width="14" height="3.9" rx="0.6" fill="#1e88e5"/><rect x="0.2" y="11.8" width="15.6" height="4" rx="0.6" fill="#f4511e"/><path d="M4 2.1H14.4M3 6H14.9M3.5 9.8H14.9M3 13.8H15.8" stroke="#f5f5f5" stroke-width="1.1"/></svg></div>
<div class="a" style="left:148.10px;top:529.70px"><svg width="12.70" height="14.61" viewBox="0 0 16 16" preserveAspectRatio="none" style="display:block"><path d="M0.5 1.2 Q8 -0.4 15.5 1.2 L15.5 3 H0.5Z" fill="#b0bcc4" stroke="#39424a" stroke-width="0.6"/><path d="M1.4 3 H14.6 L13.4 15.6 H2.6Z" fill="#a8b4bc" stroke="#39424a" stroke-width="0.6"/><path d="M3 5H13M3.2 8H12.8M3.4 11H12.6M3.6 14H12.4M4.5 3.5V15M8 3.5V15M11.5 3.5V15" stroke="#6e7b85" stroke-width="0.9" stroke-dasharray="1.2 1.2"/></svg></div>
<div class="a" style="left:780.50px;top:92.76px"><svg width="12.50" height="11.88" viewBox="0 0 16 16" preserveAspectRatio="none" style="display:block"><rect x="0.4" y="0.4" width="15.2" height="15.2" fill="#f7f7f7" stroke="#b8b8b8" stroke-width="0.8"/><path d="M5.3 0.5V15.5M10.6 0.5V15.5M0.5 5.3H15.5M0.5 10.6H15.5" stroke="#d4d4d4" stroke-width="0.7"/><path d="M0.8 14 L3.8 10.8 L6 12.6 L15.4 2.4" fill="none" stroke="#f4511e" stroke-width="1.7"/></svg></div>
<div class="a" style="left:816.60px;top:185.06px"><svg width="13.20" height="11.88" viewBox="0 0 16 16" preserveAspectRatio="none" style="display:block"><ellipse cx="4" cy="8" rx="3.6" ry="7.5" fill="#fafafa" stroke="#1a1a1a" stroke-width="0.9"/><ellipse cx="12" cy="8" rx="3.6" ry="7.5" fill="#fafafa" stroke="#1a1a1a" stroke-width="0.9"/><ellipse cx="3.6" cy="9.8" rx="2.1" ry="2.6" fill="#1a1a1a"/><ellipse cx="11.6" cy="9.8" rx="2.1" ry="2.6" fill="#1a1a1a"/></svg></div>
<div class="a" style="left:785.30px;top:503.35px"><svg width="12.50" height="12.50" viewBox="0 0 16 16" preserveAspectRatio="none" style="display:block"><path d="M0.3 7.2H3.8V16H0.3Z" fill="#3a8a3a"/><path d="M3 7.2 L6.6 0.6 Q8.8 0 8.6 2.4 L8 5.6 H14.2 Q16 5.9 15.7 7.8 L14.6 14.6 Q14.2 16 12.8 16 H3Z" fill="#fbc02d"/><path d="M8.6 8.4H15.5M8.6 10.8H15M8.6 13.2H14.8" stroke="#e5a00d" stroke-width="0.8"/></svg></div>
<div class="a" style="left:1073.50px;top:91.56px"><svg width="13.60" height="14.28" viewBox="0 0 16 16" preserveAspectRatio="none" style="display:block"><path d="M1 4 L8 0.6 L15 4 V12.2 L8 15.6 L1 12.2Z" fill="#d9a066" stroke="#1a1a1a" stroke-width="0.8"/><path d="M1 4 L8 7.4 L15 4 M8 7.4 V15.6" fill="none" stroke="#a8743f" stroke-width="0.7"/><path d="M4.6 2.3 L11.6 5.7" stroke="#b8c2cc" stroke-width="1.6"/><rect x="2" y="8" width="1.8" height="1.8" fill="#e53950"/></svg></div>
<div class="a" style="left:1068.70px;top:184.06px"><svg width="13.60" height="13.87" viewBox="0 0 16 16" preserveAspectRatio="none" style="display:block"><rect x="0.4" y="0.4" width="12.4" height="15.2" fill="#fafafa" stroke="#222" stroke-width="0.8"/><path d="M2.2 3.5H10.8M2.2 6.3H10.8M2.2 9.1H8M2.2 11.9H6.5" stroke="#9e9e9e" stroke-width="0.9"/><path d="M15 1.2 L6.8 11.2 L5.6 14 L8.4 12.6 L16 3Z" fill="#fbc02d" stroke="#6d4c00" stroke-width="0.4"/><path d="M15 1.2 L16 3 L15.2 2.4Z" fill="#e57373"/></svg></div>
<div class="a" style="left:1102.70px;top:276.09px"><svg width="11.10" height="14.43" viewBox="0 0 16 16" preserveAspectRatio="none" style="display:block"><rect x="0.3" y="0.3" width="15.4" height="15.4" rx="0.8" fill="#9aa3ab" stroke="#333" stroke-width="0.6"/><path d="M2 2H14M2 5H14M2 8H14M2 11H14" stroke="#c5ccd2" stroke-width="1" stroke-dasharray="1 1"/><ellipse cx="8" cy="4.5" rx="3" ry="2.5" fill="#f0f4f8"/><rect x="0.6" y="13.2" width="14.8" height="2.4" fill="#f4f4f4"/><rect x="14.4" y="12.6" width="1.4" height="3.2" fill="#d03030"/></svg></div>
<div class="a" style="left:1395.70px;top:91.54px"><svg width="13.90" height="14.32" viewBox="0 0 16 16" preserveAspectRatio="none" style="display:block"><path d="M15.8 0.2 Q9 0.6 4.6 7.4 L8.6 11.4 Q15.4 7 15.8 0.2Z" fill="#eceff1" stroke="#263238" stroke-width="0.5"/><path d="M15.8 0.2 Q12.6 0.3 11 1.6 L14.4 5 Q15.7 3.4 15.8 0.2Z" fill="#e53935"/><circle cx="10.6" cy="5.4" r="1.5" fill="#90a4ae" stroke="#455a64" stroke-width="0.4"/><path d="M4.6 7.4 L1.6 8 L4.8 4.6Z M8.6 11.4 L8 14.4 L11.4 11.2Z" fill="#1e88e5"/><path d="M4.4 9.2 L0.2 15.8 L6.8 11.6Z" fill="#fb8c00"/></svg></div>
<div class="a" style="left:1439.70px;top:184.75px"><svg width="12.50" height="12.50" viewBox="0 0 16 16" preserveAspectRatio="none" style="display:block"><rect x="1.5" y="0.2" width="13" height="3.9" rx="0.6" fill="#43a047"/><rect x="0.5" y="4.1" width="14.5" height="3.8" rx="0.6" fill="#fbc02d"/><rect x="1" y="7.9" width="14" height="3.9" rx="0.6" fill="#1e88e5"/><rect x="0.2" y="11.8" width="15.6" height="4" rx="0.6" fill="#f4511e"/><path d="M4 2.1H14.4M3 6H14.9M3.5 9.8H14.9M3 13.8H15.8" stroke="#f5f5f5" stroke-width="1.1"/></svg></div>
<div class="a" style="left:1688.00px;top:91.92px"><svg width="11.80" height="13.57" viewBox="0 0 16 16" preserveAspectRatio="none" style="display:block"><path d="M0.5 1.2 Q8 -0.4 15.5 1.2 L15.5 3 H0.5Z" fill="#b0bcc4" stroke="#39424a" stroke-width="0.6"/><path d="M1.4 3 H14.6 L13.4 15.6 H2.6Z" fill="#a8b4bc" stroke="#39424a" stroke-width="0.6"/><path d="M3 5H13M3.2 8H12.8M3.4 11H12.6M3.6 14H12.4M4.5 3.5V15M8 3.5V15M11.5 3.5V15" stroke="#6e7b85" stroke-width="0.9" stroke-dasharray="1.2 1.2"/></svg></div>
<div class="a" style="left:790.60px;top:276.55px"><svg width="13.50" height="13.50" viewBox="0 0 16 16" preserveAspectRatio="none" style="display:block"><circle cx="8" cy="8" r="7.5" fill="#f4630c" stroke="#111" stroke-width="0.9"/></svg></div>
<div class="a" style="left:790.60px;top:316.45px"><svg width="13.50" height="13.50" viewBox="0 0 16 16" preserveAspectRatio="none" style="display:block"><circle cx="8" cy="8" r="7.5" fill="#fde30f" stroke="#111" stroke-width="0.9"/></svg></div>
<div class="a" style="left:790.60px;top:356.55px"><svg width="13.50" height="13.50" viewBox="0 0 16 16" preserveAspectRatio="none" style="display:block"><circle cx="8" cy="8" r="7.5" fill="#16c60c" stroke="#111" stroke-width="0.9"/></svg></div>
<div class="a" style="left:790.60px;top:396.55px"><svg width="13.50" height="13.50" viewBox="0 0 16 16" preserveAspectRatio="none" style="display:block"><circle cx="8" cy="8" r="7.5" fill="#16c60c" stroke="#111" stroke-width="0.9"/></svg></div>
<div class="a" style="left:1755px;top:504px;width:28px;height:29px;box-sizing:border-box;background:#21262d;border:1px solid #30363d;border-radius:6px"></div>
<svg class="a" style="left:1755px;top:504px" width="28" height="29"><path d="M7.5 11.5V8.5Q7.5 7.5 8.5 7.5H11.5 M16.5 7.5H19.5Q20.5 7.5 20.5 8.5V11.5 M20.5 17.5V20.5Q20.5 21.5 19.5 21.5H16.5 M11.5 21.5H8.5Q7.5 21.5 7.5 20.5V17.5" fill="none" stroke="#c9d1d9" stroke-width="1.5"/></svg>
<div class="a" style="left:1791px;top:504px;width:55px;height:29px;box-sizing:border-box;background:#21262d;border:1px solid #30363d;border-radius:6px"></div>
<div class="a" style="left:1818px;top:505px;width:1px;height:27px;background:#30363d"></div>
<svg class="a" style="left:1791px;top:504px" width="56" height="29"><path d="M8 14.5H19.5" stroke="#484f58" stroke-width="1.5"/><path d="M35 14.5H46.5M40.75 8.75V20.25" stroke="#c9d1d9" stroke-width="1.5"/></svg>
</body></html>
